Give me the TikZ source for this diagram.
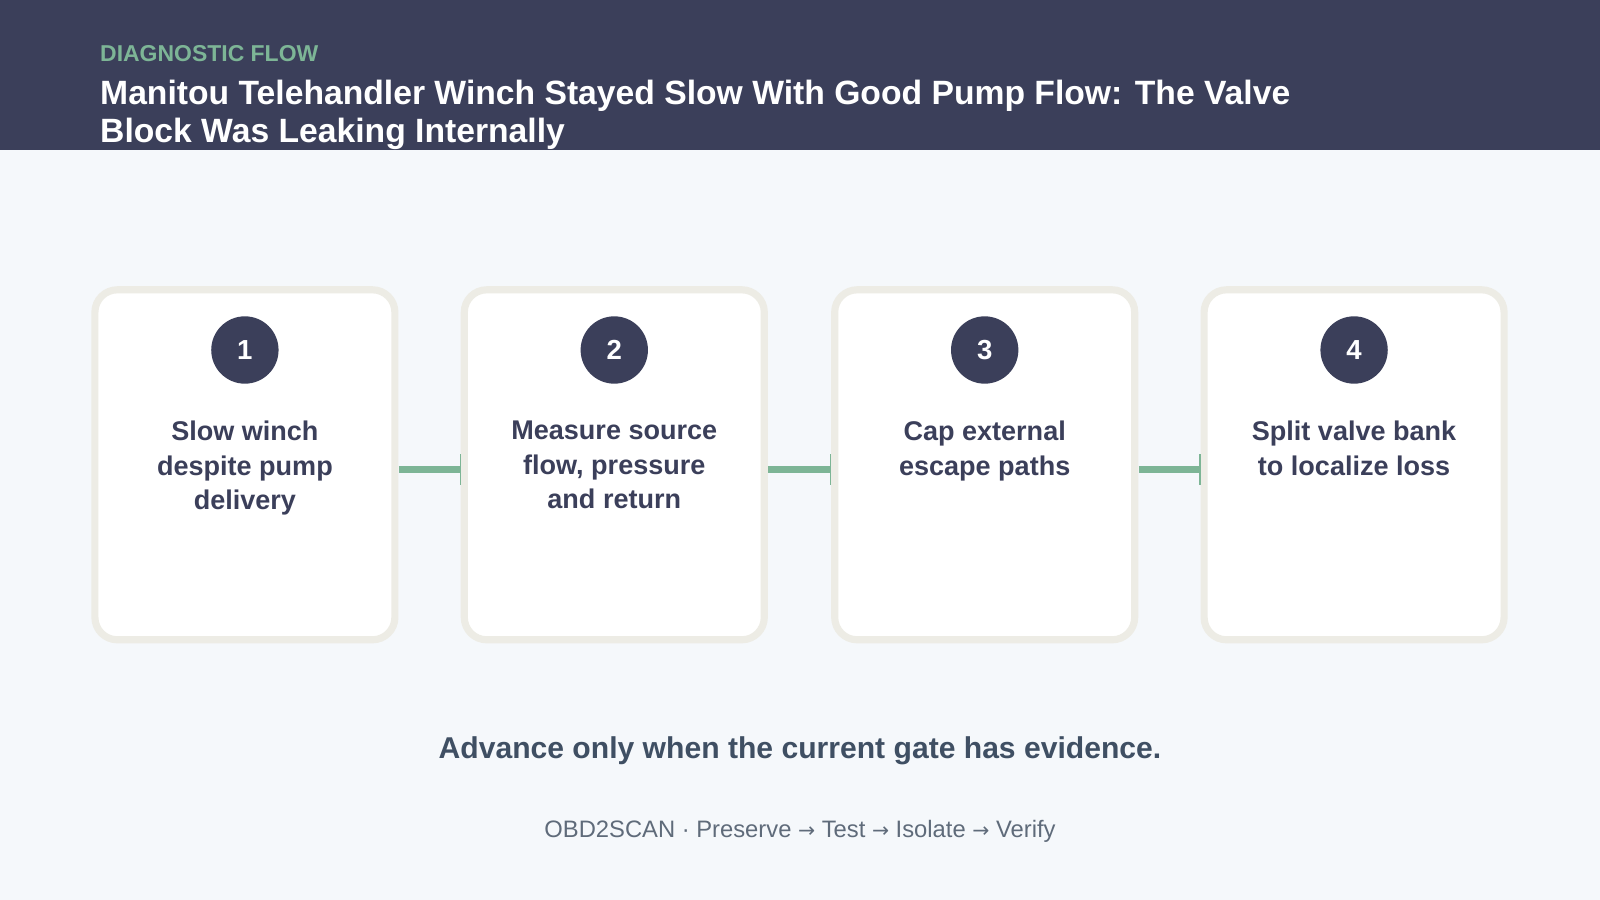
\documentclass[tikz,border=0pt]{standalone}
\usepackage{fontspec}
\setmainfont{Liberation Sans}
\newfontfamily\dejavu{DejaVu Sans}
\definecolor{navy}{HTML}{3B3F5A}
\definecolor{bg}{HTML}{F5F8FB}
\definecolor{grn}{HTML}{7DB596}
\definecolor{brd}{HTML}{EDECE5}
\definecolor{foot}{HTML}{5F6B7A}
\definecolor{adv}{HTML}{3F4F63}
\begin{document}
\begin{tikzpicture}[x=1pt,y=-1pt,
  card/.style={draw=brd,line width=7pt,fill=white,rounded corners=22pt},
  num/.style={circle,fill=navy,minimum size=66pt,inner sep=0pt,text=white,font=\bfseries\fontsize{27}{30}\selectfont},
  lbl/.style={align=center,text=navy,font=\bfseries\fontsize{26.5}{34}\selectfont,anchor=north},
  link/.style={draw=grn,line width=7pt}]
\fill[bg] (0,0) rectangle (1568,882);
\useasboundingbox (0,0) rectangle (1568,882);
\fill[navy] (0,0) rectangle (1568,147);
\node[anchor=west,text=grn,font=\bfseries\fontsize{22.5}{26}\selectfont,inner sep=0pt] (kick) at (98,53) {DIAGNOSTIC FLOW};
\node[anchor=north west,text=white,align=left,font=\bfseries\fontsize{33}{38}\selectfont,inner sep=0pt] (title) at (98,78) {Manitou Telehandler Winch Stayed Slow With Good Pump Flow: The Valve\\Block Was Leaking Internally};
\foreach \i/\x/\t in {1/240/{Slow winch\\despite pump\\delivery},2/602/{Measure source\\flow, pressure\\and return},3/965/{Cap external\\escape paths},4/1327/{Split valve bank\\to localize loss}}{
  \draw[card] (\x-147,284) rectangle (\x+147,627);
  \node[num] (n\i) at (\x,343) {\i};
  \node[lbl] (t\i) at (\x,409) {\t};
  \coordinate (L\i) at (\x-151,460);
  \coordinate (R\i) at (\x+151,460);
}
\foreach \a/\b in {1/2,2/3,3/4}{
  \draw[link] (R\a) -- (L\b);
  \draw[grn,line width=1.2pt] ([yshift=-15pt]L\b) -- ([yshift=15pt]L\b);
}
\node[text=adv,font=\bfseries\fontsize{29.5}{32}\selectfont] (adv) at (784,736) {Advance only when the current gate has evidence.};
\node[text=foot,font=\fontsize{23.3}{26}\selectfont] (ft) at (784,815) {OBD2SCAN · Preserve {\dejavu\fontsize{20}{22}\selectfont →} Test {\dejavu\fontsize{20}{22}\selectfont →} Isolate {\dejavu\fontsize{20}{22}\selectfont →} Verify};
\end{tikzpicture}
\end{document}
